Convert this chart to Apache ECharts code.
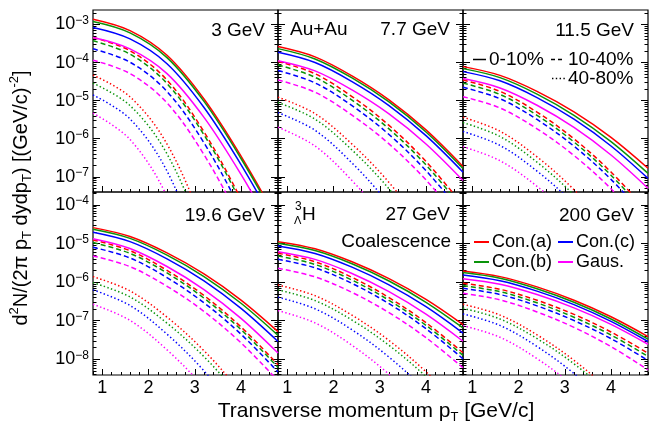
<!DOCTYPE html>
<html>
<head>
<meta charset="utf-8">
<script src="https://cdn.jsdelivr.net/npm/echarts@6/dist/echarts.min.js"></script>
<style>
  html, body { margin: 0; padding: 0; background: #ffffff; }
  #chart { width: 652px; height: 428px; }
</style>
</head>
<body>
<div id="chart"></div>
<script>
// Transverse-momentum grid shared by every curve (GeV/c)
const pT = [0.8, 1.6, 2.4, 3.2, 4.0, 4.8];

const energies = ['3 GeV', '7.7 GeV', '11.5 GeV', '19.6 GeV', '27 GeV', '200 GeV'];
const models = ['Con.(a)', 'Con.(b)', 'Con.(c)', 'Gaus.'];
const centralities = ['0-10%', '10-40%', '40-80%'];

// Yields d2N/(2pi pT dy dpT), rows: 0-10%, 10-40%, 40-80%
const conA_3GeV = [
  [1.38e-3, 6.92e-4, 1.55e-4, 1.10e-5, 3.47e-7, 6.92e-9],
  [4.57e-4, 2.04e-4, 3.47e-5, 1.51e-6, 2.57e-8, 2.57e-10],
  [4.68e-5, 1.26e-5, 7.24e-7, 4.79e-9, 6.76e-12, 3.98e-15]
];
const conB_3GeV = [
  [1.20e-3, 6.03e-4, 1.35e-4, 9.55e-6, 3.02e-7, 6.03e-9],
  [3.72e-4, 1.66e-4, 2.82e-5, 1.26e-6, 2.14e-8, 2.09e-10],
  [2.88e-5, 7.41e-6, 3.98e-7, 2.29e-9, 2.75e-12, 1.58e-15]
];
const conC_3GeV = [
  [8.32e-4, 4.17e-4, 9.33e-5, 6.61e-6, 2.09e-7, 4.17e-9],
  [2.29e-4, 1.02e-4, 1.74e-5, 7.76e-7, 1.32e-8, 1.29e-10],
  [1.41e-5, 3.31e-6, 1.41e-7, 5.50e-10, 3.98e-13, 1.00e-16]
];
const gaus_3GeV = [
  [4.57e-4, 2.29e-4, 5.13e-5, 3.63e-6, 1.15e-7, 2.29e-9],
  [1.15e-4, 5.13e-5, 8.71e-6, 3.80e-7, 6.46e-9, 6.46e-11],
  [4.68e-6, 9.55e-7, 3.02e-8, 6.92e-11, 2.51e-14, 3.16e-18]
];

const conA_7GeV = [
  [2.63e-4, 1.41e-4, 4.47e-5, 1.05e-5, 1.70e-6, 1.86e-7],
  [1.07e-4, 5.08e-5, 1.28e-5, 2.24e-6, 2.52e-7, 1.78e-8],
  [1.23e-5, 4.55e-6, 7.21e-7, 7.08e-8, 3.85e-9, 1.12e-10]
];
const conB_7GeV = [
  [2.32e-4, 1.24e-4, 3.94e-5, 9.23e-6, 1.50e-6, 1.64e-7],
  [8.65e-5, 4.10e-5, 1.03e-5, 1.81e-6, 2.04e-7, 1.44e-8],
  [8.91e-6, 3.26e-6, 5.05e-7, 4.81e-8, 2.52e-9, 7.08e-11]
];
const conC_7GeV = [
  [1.86e-4, 1.00e-4, 3.16e-5, 7.41e-6, 1.20e-6, 1.32e-7],
  [6.17e-5, 2.92e-5, 7.35e-6, 1.29e-6, 1.45e-7, 1.02e-8],
  [4.84e-6, 1.66e-6, 2.30e-7, 1.89e-8, 8.28e-10, 1.86e-11]
];
const gaus_7GeV = [
  [1.12e-4, 6.03e-5, 1.91e-5, 4.47e-6, 7.24e-7, 7.94e-8],
  [3.49e-5, 1.66e-5, 4.16e-6, 7.29e-7, 8.22e-8, 5.79e-9],
  [2.00e-6, 6.44e-7, 7.93e-8, 5.65e-9, 2.06e-10, 3.72e-12]
];

const conA_11GeV = [
  [7.82e-5, 4.60e-5, 1.75e-5, 5.05e-6, 1.08e-6, 1.67e-7],
  [3.49e-5, 1.75e-5, 4.99e-6, 9.91e-7, 1.33e-7, 1.18e-8],
  [3.66e-6, 1.57e-6, 3.34e-7, 4.57e-8, 3.87e-9, 1.96e-10]
];
const conB_11GeV = [
  [6.92e-5, 4.01e-5, 1.48e-5, 4.11e-6, 8.39e-7, 1.23e-7],
  [2.88e-5, 1.45e-5, 4.12e-6, 8.18e-7, 1.10e-7, 9.75e-9],
  [2.65e-6, 1.14e-6, 2.42e-7, 3.30e-8, 2.80e-9, 1.42e-10]
];
const conC_11GeV = [
  [5.78e-5, 3.31e-5, 1.20e-5, 3.25e-6, 6.44e-7, 9.08e-8],
  [2.24e-5, 1.12e-5, 3.20e-6, 6.35e-7, 8.55e-8, 7.57e-9],
  [1.55e-6, 6.64e-7, 1.41e-7, 1.93e-8, 1.64e-9, 8.32e-11]
];
const gaus_11GeV = [
  [3.80e-5, 2.15e-5, 7.55e-6, 1.97e-6, 3.72e-7, 4.97e-8],
  [1.27e-5, 6.40e-6, 1.82e-6, 3.61e-7, 4.86e-8, 4.31e-9],
  [6.17e-7, 2.64e-7, 5.62e-8, 7.69e-9, 6.52e-10, 3.31e-11]
];

const conA_19GeV = [
  [2.59e-5, 1.52e-5, 5.71e-6, 1.63e-6, 3.43e-7, 5.22e-8],
  [1.24e-5, 6.53e-6, 2.02e-6, 4.50e-7, 6.90e-8, 7.23e-9],
  [1.39e-6, 5.92e-7, 1.24e-7, 1.67e-8, 1.37e-9, 6.76e-11]
];
const conB_19GeV = [
  [2.34e-5, 1.36e-5, 5.02e-6, 1.40e-6, 2.84e-7, 4.18e-8],
  [1.06e-5, 5.57e-6, 1.73e-6, 3.84e-7, 5.89e-8, 6.17e-9],
  [9.70e-7, 4.13e-7, 8.65e-8, 1.17e-8, 9.59e-10, 4.68e-11]
];
const conC_19GeV = [
  [1.96e-5, 1.12e-5, 4.01e-6, 1.08e-6, 2.09e-7, 2.90e-8],
  [8.02e-6, 4.23e-6, 1.31e-6, 2.91e-7, 4.47e-8, 4.68e-9],
  [6.31e-7, 2.48e-7, 4.49e-8, 5.01e-9, 3.26e-10, 1.20e-11]
];
const gaus_19GeV = [
  [1.34e-5, 7.45e-6, 2.54e-6, 6.41e-7, 1.15e-7, 1.45e-8],
  [4.79e-6, 2.52e-6, 7.82e-7, 1.74e-7, 2.67e-8, 2.79e-9],
  [2.67e-7, 1.02e-7, 1.76e-8, 1.85e-9, 1.11e-10, 3.80e-12]
];

const conA_27GeV = [
  [1.12e-5, 7.33e-6, 3.37e-6, 1.23e-6, 3.56e-7, 7.94e-8],
  [5.62e-6, 3.37e-6, 1.33e-6, 3.97e-7, 8.93e-8, 1.48e-8],
  [8.45e-7, 4.46e-7, 1.39e-7, 3.08e-8, 4.76e-9, 5.04e-10]
];
const conB_27GeV = [
  [1.02e-5, 6.58e-6, 2.99e-6, 1.07e-6, 3.01e-7, 6.52e-8],
  [4.79e-6, 2.87e-6, 1.13e-6, 3.38e-7, 7.60e-8, 1.26e-8],
  [6.31e-7, 3.33e-7, 1.04e-7, 2.30e-8, 3.56e-9, 3.76e-10]
];
const conC_27GeV = [
  [8.67e-6, 5.55e-6, 2.45e-6, 8.53e-7, 2.31e-7, 4.79e-8],
  [3.92e-6, 2.35e-6, 9.27e-7, 2.77e-7, 6.22e-8, 1.03e-8],
  [4.07e-7, 2.04e-7, 5.81e-8, 1.14e-8, 1.52e-9, 1.34e-10]
];
const gaus_27GeV = [
  [6.17e-6, 3.89e-6, 1.68e-6, 5.68e-7, 1.48e-7, 2.94e-8],
  [2.29e-6, 1.37e-6, 5.42e-7, 1.62e-7, 3.64e-8, 6.03e-9],
  [1.83e-7, 8.79e-8, 2.31e-8, 4.10e-9, 4.83e-10, 3.63e-11]
];

const conA_200GeV = [
  [1.95e-6, 1.39e-6, 7.53e-7, 3.40e-7, 1.27e-7, 3.89e-8],
  [9.33e-7, 6.53e-7, 3.39e-7, 1.46e-7, 5.11e-8, 1.44e-8],
  [2.67e-7, 1.40e-7, 4.31e-8, 9.38e-9, 1.42e-9, 1.46e-10]
];
const conB_200GeV = [
  [1.77e-6, 1.26e-6, 6.73e-7, 3.01e-7, 1.11e-7, 3.32e-8],
  [8.13e-7, 5.65e-7, 2.91e-7, 1.23e-7, 4.27e-8, 1.19e-8],
  [2.10e-7, 1.11e-7, 3.45e-8, 7.64e-9, 1.18e-9, 1.24e-10]
];
const conC_200GeV = [
  [1.54e-6, 1.09e-6, 5.86e-7, 2.62e-7, 9.64e-8, 2.89e-8],
  [6.92e-7, 4.78e-7, 2.43e-7, 1.01e-7, 3.44e-8, 9.33e-9],
  [1.50e-7, 7.55e-8, 2.15e-8, 4.27e-9, 5.74e-10, 5.13e-11]
];
const gaus_200GeV = [
  [1.23e-6, 8.81e-7, 4.76e-7, 2.15e-7, 8.05e-8, 2.46e-8],
  [5.13e-7, 3.47e-7, 1.69e-7, 6.71e-8, 2.13e-8, 5.36e-9],
  [7.46e-8, 3.72e-8, 1.04e-8, 2.01e-9, 2.63e-10, 2.24e-11]
];

// Axis tick values
const xTicks = [1, 2, 3, 4];
const yTicksTop = [1e-7, 1e-6, 1e-5, 1e-4, 1e-3];
const yTicksBottom = [1e-8, 1e-7, 1e-6, 1e-5, 1e-4];

// model -> energy -> table
const yieldTables = [
  [conA_3GeV, conA_7GeV, conA_11GeV, conA_19GeV, conA_27GeV, conA_200GeV],
  [conB_3GeV, conB_7GeV, conB_11GeV, conB_19GeV, conB_27GeV, conB_200GeV],
  [conC_3GeV, conC_7GeV, conC_11GeV, conC_19GeV, conC_27GeV, conC_200GeV],
  [gaus_3GeV, gaus_7GeV, gaus_11GeV, gaus_19GeV, gaus_27GeV, gaus_200GeV]
];

const FONT = "'Liberation Sans', Arial, sans-serif";
const modelColors = ['#ff0000', '#0a940a', '#0000ff', '#ff00ff'];
const centralityDash = ['solid', [5, 3], [1.4, 2.4]];

// Panel frames (pixels)
const PW = 185;
const panelBox = [
  { left: 93, top: 10, height: 182 }, { left: 278, top: 10, height: 182 }, { left: 463, top: 10, height: 182 },
  { left: 93, top: 192, height: 183 }, { left: 278, top: 192, height: 183 }, { left: 463, top: 192, height: 183 }
];
const yRangeTop = [3.98e-8, 2.40e-3];
const yRangeBottom = [3.92e-9, 2.17e-4];

const supLabel = v => {
  const e = Math.round(Math.log10(v));
  return '{b|10}{s|\u2212' + Math.abs(e) + '}';
};
const labelRich = {
  b: { fontSize: 18, fontFamily: FONT, color: '#000', lineHeight: 20 },
  s: { fontSize: 12, fontFamily: FONT, color: '#000', lineHeight: 8, verticalAlign: 'top' }
};

const grid = [], xAxis = [], yAxis = [], series = [];

panelBox.forEach((b, i) => {
  const isTop = i < 3;
  const yr = isTop ? yRangeTop : yRangeBottom;
  const yt = isTop ? yTicksTop : yTicksBottom;
  grid.push({ left: b.left, top: b.top, width: PW, height: b.height, show: true,
              borderColor: '#000', borderWidth: 1.2, backgroundColor: 'transparent', containLabel: false });

  // major x ticks + labels
  xAxis.push({
    type: 'value', gridIndex: i, position: 'bottom', min: 0.8, max: 4.8,
    axisLine: { show: false }, splitLine: { show: false },
    axisTick: { show: true, inside: true, length: 6, customValues: xTicks, lineStyle: { color: '#000', width: 1 } },
    axisLabel: { show: !isTop, customValues: xTicks, fontSize: 18, fontFamily: FONT, color: '#000', margin: 4 }
  });
  // y axis, left side
  yAxis.push({
    type: 'log', logBase: 10, gridIndex: i, position: 'left', min: yr[0], max: yr[1],
    axisLine: { show: false }, splitLine: { show: false },
    axisTick: { show: true, inside: true, length: 7, customValues: yt, lineStyle: { color: '#000', width: 1 } },
    minorTick: { show: true, splitNumber: 9, length: 3.5, lineStyle: { color: '#000', width: 1 } },
    minorSplitLine: { show: false },
    axisLabel: { show: i % 3 === 0, customValues: yt, formatter: supLabel, rich: labelRich, margin: 4 }
  });
});

panelBox.forEach((b, i) => {
  const isTop = i < 3;
  const yr = isTop ? yRangeTop : yRangeBottom;
  const yt = isTop ? yTicksTop : yTicksBottom;
  // minor x ticks every 0.2
  xAxis.push({
    type: 'value', gridIndex: i, position: 'bottom', min: 0.8, max: 4.8, interval: 0.2,
    axisLine: { show: false }, splitLine: { show: false },
    axisTick: { show: true, inside: true, length: 3, lineStyle: { color: '#000', width: 1 } },
    axisLabel: { show: false }
  });
  // y ticks mirrored on the right side
  yAxis.push({
    type: 'log', logBase: 10, gridIndex: i, position: 'right', min: yr[0], max: yr[1],
    axisLine: { show: false }, splitLine: { show: false },
    axisTick: { show: true, inside: true, length: 7, customValues: yt, lineStyle: { color: '#000', width: 1 } },
    minorTick: { show: true, splitNumber: 9, length: 3.5, lineStyle: { color: '#000', width: 1 } },
    minorSplitLine: { show: false },
    axisLabel: { show: false }
  });
});

for (let c = 0; c < centralities.length; c++) {
  for (let p = 0; p < energies.length; p++) {
    for (let m = 0; m < models.length; m++) {
      const vals = yieldTables[m][p][c];
      series.push({
        name: models[m],
        type: 'line',
        xAxisIndex: p,
        yAxisIndex: p,
        data: pT.map((x, k) => [x, vals[k]]),
        smooth: 0.35,
        symbol: 'none',
        showSymbol: false,
        clip: true,
        silent: true,
        lineStyle: { color: modelColors[m], width: 1.5, type: centralityDash[c] },
        itemStyle: { color: modelColors[m] },
        z: 3 - c
      });
    }
  }
}

const txt = (x, y, text, align, size, extra) => Object.assign({
  type: 'text', x: x, y: y, silent: true,
  style: { text: text, fill: '#000', font: size + 'px ' + FONT, align: align, verticalAlign: 'middle' }
}, extra || {});

const graphic = [
  // panel captions
  txt(265, 31, energies[0], 'right', 19),
  txt(290, 30, 'Au+Au', 'left', 19),
  txt(450, 30, energies[1], 'right', 19),
  txt(634, 31, energies[2], 'right', 19),
  txt(265, 216, energies[3], 'right', 19),
  txt(450, 215, energies[4], 'right', 19),
  txt(451, 242, 'Coalescence', 'right', 19),
  txt(634, 216, energies[5], 'right', 19),
  // hypertriton symbol
  txt(295, 207, '3', 'left', 12),
  txt(294, 221, '\u039b', 'left', 11),
  txt(302, 215, 'H', 'left', 19),
  // centrality line-style key
  { type: 'line', silent: true, shape: { x1: 473, y1: 59.5, x2: 486, y2: 59.5 }, style: { stroke: '#000', lineWidth: 1.5 } },
  txt(489, 60, centralities[0], 'left', 19),
  { type: 'line', silent: true, shape: { x1: 551, y1: 59.5, x2: 564, y2: 59.5 }, style: { stroke: '#000', lineWidth: 1.5, lineDash: [4, 3] } },
  txt(568, 60, centralities[1], 'left', 19),
  { type: 'line', silent: true, shape: { x1: 552, y1: 78.5, x2: 565, y2: 78.5 }, style: { stroke: '#000', lineWidth: 1.5, lineDash: [1.4, 2.4] } },
  txt(568, 79, centralities[2], 'left', 19),
  // axis titles
  {
    type: 'text', x: 376, y: 411, silent: true,
    style: {
      text: 'Transverse momentum p{sub|T} [GeV/c]',
      fill: '#000', font: '21px ' + FONT, fontSize: 21, fontFamily: FONT,
      align: 'center', verticalAlign: 'middle', lineHeight: 26,
      rich: { sub: { fontSize: 13, fontFamily: FONT, fill: '#000', lineHeight: 10, verticalAlign: 'bottom' } }
    }
  },
  {
    type: 'text', x: 21, y: 198, rotation: Math.PI / 2, silent: true,
    style: {
      text: 'd{sup|2}N/(2\u03c0 p{sub|T} dydp{sub|T}) [(GeV/c){sup|-2}]',
      fill: '#000', font: '20px ' + FONT, fontSize: 20, fontFamily: FONT,
      align: 'center', verticalAlign: 'middle', lineHeight: 26,
      rich: {
        sup: { fontSize: 13, fontFamily: FONT, fill: '#000', lineHeight: 10, verticalAlign: 'top' },
        sub: { fontSize: 13, fontFamily: FONT, fill: '#000', lineHeight: 10, verticalAlign: 'bottom' }
      }
    }
  }
];

// model key: short coloured strokes, two rows
const legendBase = {
  orient: 'horizontal', padding: 0, itemWidth: 15, itemHeight: 2, itemGap: 6,
  icon: 'rect', selectedMode: false,
  itemStyle: { borderWidth: 0 },
  textStyle: { fontSize: 18, fontFamily: FONT, color: '#000', padding: [0, 0, 0, -2] }
};

const chart = echarts.init(document.getElementById('chart'), null, { renderer: 'canvas' });
chart.setOption({
  animation: false,
  backgroundColor: '#ffffff',
  grid: grid,
  xAxis: xAxis,
  yAxis: yAxis,
  legend: [
    Object.assign({ data: [models[0], models[2]], left: 474, top: 233 }, legendBase),
    Object.assign({ data: [models[1], models[3]], left: 474, top: 253 }, legendBase)
  ],
  graphic: graphic,
  series: series
});
</script>
</body>
</html>
